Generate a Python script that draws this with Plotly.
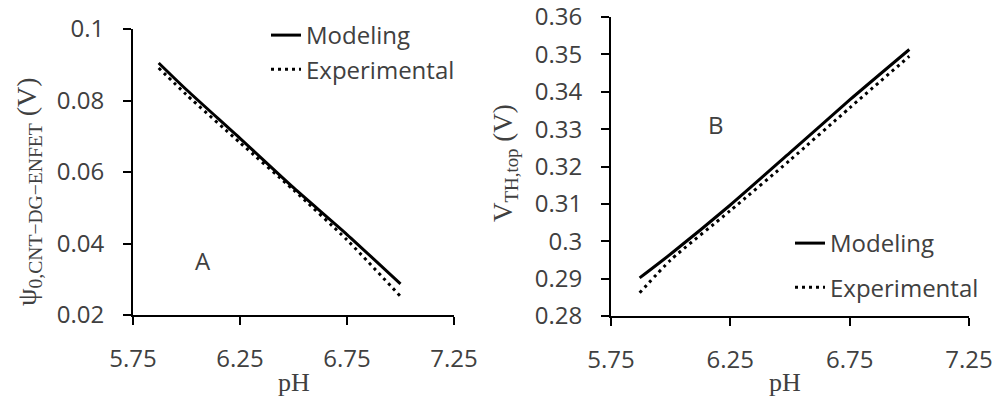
import plotly.graph_objects as go

# ---- data ----
ph = [5.87, 6.0, 6.25, 6.5, 6.75, 7.0]
psi_model = [0.0905, 0.0830, 0.0694, 0.0556, 0.0425, 0.0287]
psi_exp = [0.0891, 0.0816, 0.0682, 0.0550, 0.0410, 0.0252]
vth_model = [0.2902, 0.2966, 0.3097, 0.3237, 0.3378, 0.3513]
vth_exp = [0.2862, 0.2950, 0.3082, 0.3217, 0.3357, 0.3495]

x_ticks = [5.75, 6.25, 6.75, 7.25]
x_ticktext = ["5.75", "6.25", "6.75", "7.25"]
yA_ticks = [0.02, 0.04, 0.06, 0.08, 0.1]
yA_ticktext = ["0.02", "0.04", "0.06", "0.08", "0.1"]
yB_ticks = [0.28, 0.29, 0.30, 0.31, 0.32, 0.33, 0.34, 0.35, 0.36]
yB_ticktext = ["0.28", "0.29", "0.3", "0.31", "0.32", "0.33", "0.34", "0.35", "0.36"]

W, H = 997, 407
SANS = "Open Sans"
SERIF = "Liberation Serif"
TXT = "#404040"

fig = go.Figure()

line_solid = dict(color="black", width=3, shape="spline", smoothing=0.6)
line_dot = dict(color="black", width=3, dash="3px,4px", shape="spline", smoothing=0.6)

fig.add_trace(go.Scatter(x=ph, y=psi_model, mode="lines", name="Modeling",
                         line=line_solid, xaxis="x", yaxis="y", legend="legend"))
fig.add_trace(go.Scatter(x=ph, y=psi_exp, mode="lines", name="Experimental",
                         line=line_dot, xaxis="x", yaxis="y", legend="legend"))
fig.add_trace(go.Scatter(x=ph, y=vth_model, mode="lines", name="Modeling",
                         line=line_solid, xaxis="x2", yaxis="y2", legend="legend2",
                         legendgroup="m2"))
fig.add_trace(go.Scatter(x=ph, y=vth_exp, mode="lines", name="Experimental",
                         line=line_dot, xaxis="x2", yaxis="y2", legend="legend2",
                         legendgroup="e2"))

def px(xp):
    return xp / W

def py(yp):
    return 1 - yp / H

axis_common = dict(showline=True, linecolor="black", linewidth=2, ticks="outside",
                   ticklen=8, tickwidth=2, tickcolor="black", showgrid=False,
                   zeroline=False, tickfont=dict(family=SANS, size=24, color=TXT),
                   fixedrange=True, automargin=False, ticklabeloverflow="allow")

fig.update_layout(
    width=W, height=H,
    margin=dict(l=0, r=0, t=0, b=0, autoexpand=False),
    paper_bgcolor="white", plot_bgcolor="white",
    xaxis=dict(domain=[px(133), px(454)], range=[5.75, 7.25], tickvals=x_ticks,
               ticktext=x_ticktext, anchor="y", ticklabelstandoff=13, **axis_common),
    yaxis=dict(domain=[py(315), py(29)], range=[0.02, 0.1], tickvals=yA_ticks,
               ticktext=yA_ticktext, anchor="x", ticklabelstandoff=14, **axis_common),
    xaxis2=dict(domain=[px(611), px(969)], range=[5.75, 7.25], tickvals=x_ticks,
                ticktext=x_ticktext, anchor="y2", ticklabelstandoff=13, **axis_common),
    yaxis2=dict(domain=[py(316), py(17)], range=[0.28, 0.36], tickvals=yB_ticks,
                ticktext=yB_ticktext, anchor="x2", ticklabelstandoff=14, **axis_common),
    legend=dict(x=px(266), y=py(13), xanchor="left", yanchor="top",
                bgcolor="rgba(0,0,0,0)", font=dict(family=SANS, size=24, color=TXT),
                tracegroupgap=0, itemwidth=30),
    legend2=dict(x=px(790), y=py(221), xanchor="left", yanchor="top",
                 bgcolor="rgba(0,0,0,0)", font=dict(family=SANS, size=24, color=TXT),
                 tracegroupgap=10, itemwidth=30),
    showlegend=True,
)

annotations = [
    dict(text="A", x=px(203), y=py(260), xref="paper", yref="paper", showarrow=False,
         xanchor="center", yanchor="middle", font=dict(family=SANS, size=24, color=TXT)),
    dict(text="B", x=px(716), y=py(124), xref="paper", yref="paper", showarrow=False,
         xanchor="center", yanchor="middle", font=dict(family=SANS, size=24, color=TXT)),
    dict(text="pH", x=px(294), y=py(382), xref="paper", yref="paper", showarrow=False,
         xanchor="center", yanchor="middle", font=dict(family=SERIF, size=26, color=TXT)),
    dict(text="pH", x=px(785), y=py(382), xref="paper", yref="paper", showarrow=False,
         xanchor="center", yanchor="middle", font=dict(family=SERIF, size=26, color=TXT)),
    dict(text="ψ<sub>0,CNT−DG−ENFET</sub> (V)", x=px(28), y=py(192), xref="paper",
         yref="paper", showarrow=False, textangle=-90, xanchor="center", yanchor="middle",
         font=dict(family=SERIF, size=28, color=TXT)),
    dict(text="V<sub>TH,top</sub> (V)", x=px(505), y=py(163), xref="paper",
         yref="paper", showarrow=False, textangle=-90, xanchor="center", yanchor="middle",
         font=dict(family=SERIF, size=27, color=TXT)),
]
fig.update_layout(annotations=annotations)

fig.write_html("out.html")
